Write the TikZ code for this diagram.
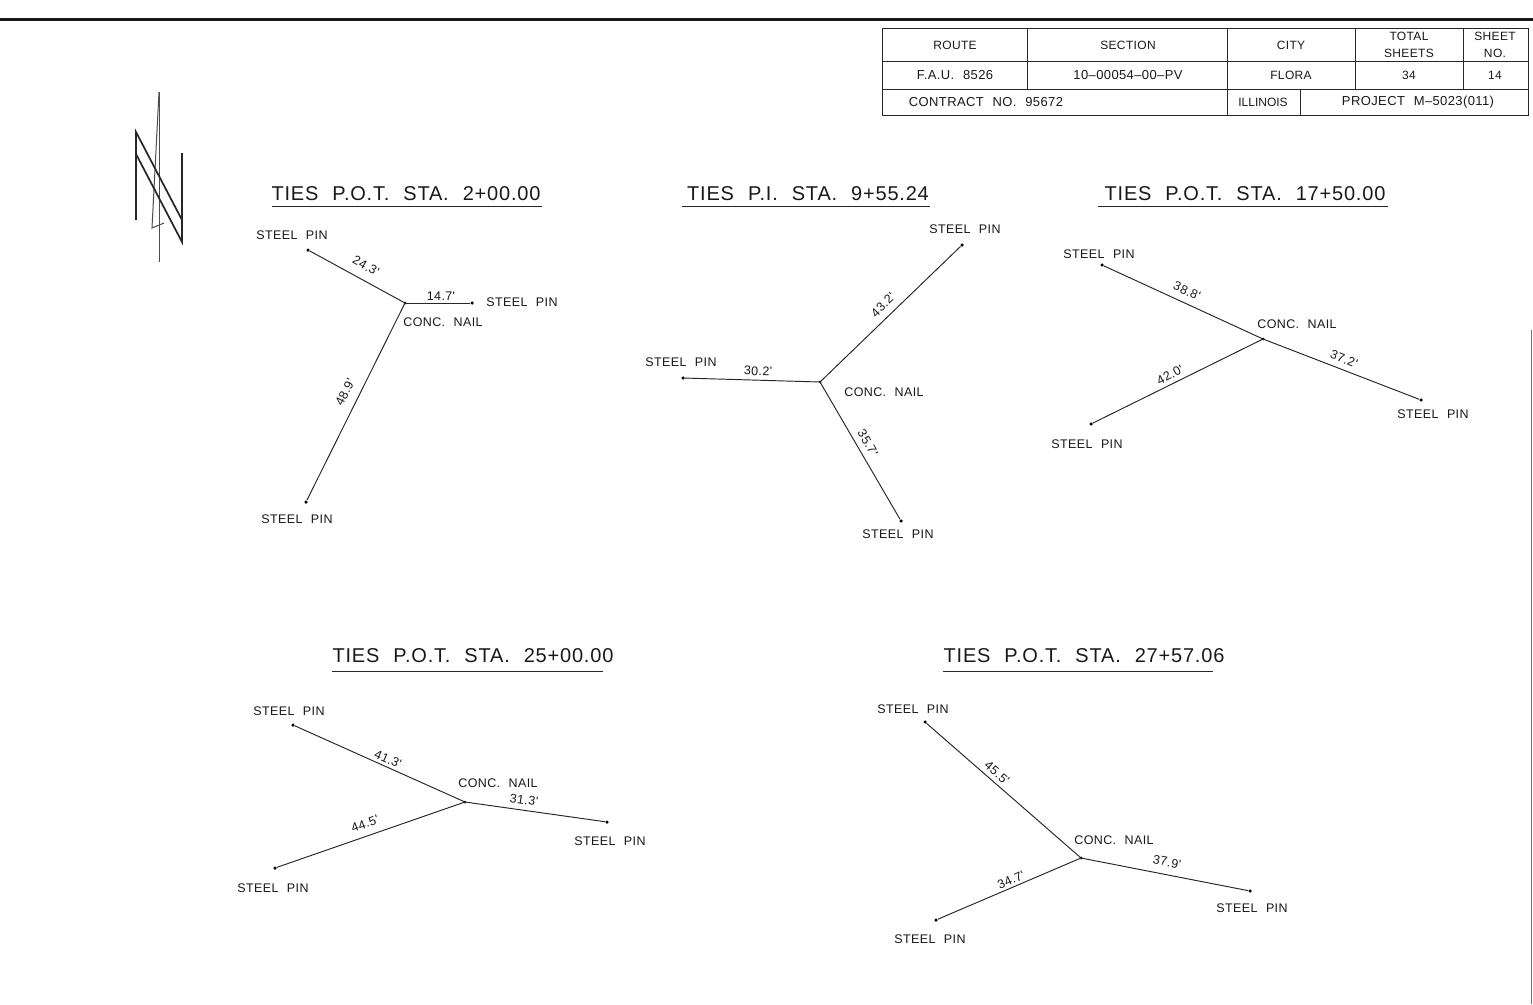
\documentclass[tikz,border=0pt]{standalone}
\usepackage{fontspec}
\setmainfont{Liberation Sans}
\newfontfamily\cadfont[LetterSpace=3,WordSpace=2.2]{Liberation Sans}
\newfontfamily\titlefont[LetterSpace=4,WordSpace=2.2]{Liberation Sans}
\tikzset{
  tie/.style={line width=0.95pt,black!85},
  pinpt/.style={circle,fill=black,inner sep=0pt,minimum size=3.5pt},
  lab/.style={font=\cadfont\fontsize{12.5}{13}\selectfont,inner sep=0pt,text=black!90},
  dim/.style={font=\cadfont\fontsize{12.5}{13}\selectfont,inner sep=0pt,text=black!90},
  ttl/.style={font=\titlefont\fontsize{20}{21}\selectfont,inner sep=0pt,text=black!90},
  uline/.style={line width=0.9pt,black!85},
  tbl/.style={line width=1pt,black!85},
  tt/.style={font=\cadfont\fontsize{12}{17}\selectfont,inner sep=0pt,align=center,text=black!90},
  tb/.style={font=\cadfont\fontsize{13}{14}\selectfont,inner sep=0pt,align=center,text=black!90},
  nline/.style={line width=1.7pt,black!85},
  nthin/.style={line width=1pt,black!70}
}
\begin{document}
\begin{tikzpicture}[x=1pt,y=-1pt]
\useasboundingbox (0,0) rectangle (1533,1004);
\fill[white] (0,0) rectangle (1533,1004);
% top bar
\draw[line width=3.5pt,black!90] (0,19.5) -- (1533,19.5);
% right edge
\draw[line width=0.8pt,black!55] (1531.5,330) -- (1531.5,1004);
% title block
\draw[tbl] (882,28) rectangle (1528,115);
\draw[tbl] (882,61) -- (1528,61);
\draw[tbl] (882,89) -- (1528,89);
\draw[tbl] (1027,28) -- (1027,89);
\draw[tbl] (1227,28) -- (1227,115);
\draw[tbl] (1355,28) -- (1355,89);
\draw[tbl] (1463,28) -- (1463,89);
\draw[tbl] (1300,89) -- (1300,115);
\node[tt] (t1) at (955,45) {ROUTE};
\node[tt] (t2) at (1128,45) {SECTION};
\node[tt] (t3) at (1291,45) {CITY};
\node[tt] (t4) at (1409,45) {TOTAL\\SHEETS};
\node[tt] (t5) at (1495,45) {SHEET\\NO.};
\node[tb] (t6) at (955,75) {F.A.U. 8526};
\node[tb] (t7) at (1128,75) {10–00054–00–PV};
\node[tt] (t8) at (1291,75) {FLORA};
\node[tt] (t9) at (1409,75) {34};
\node[tt] (t10) at (1495,75) {14};
\node[tb] (t11) at (986,102) {CONTRACT NO. 95672};
\node[tt] (t12) at (1263,102) {\addfontfeature{LetterSpace=0}ILLINOIS};
\node[tb] (t13) at (1418,102) {PROJECT M–5023(011)};
% north arrow
\draw[nthin] (159,92) -- (159,262);
\draw[nthin] (159,92) -- (152,228) -- (164,223);
\draw[nline] (136,220) -- (136,132) -- (182,220);
\draw[nline] (136,154) -- (182,242) -- (182,153);
% ---------- 1
\node[ttl] (T1) at (406,194) {TIES P.O.T. STA. 2+00.00};
\draw[uline] (272,206.5) -- (542,206.5);
\coordinate (n1) at (405,303);
\node[pinpt] (a1) at (308,250) {};
\node[pinpt] (b1) at (472,303) {};
\node[pinpt] (c1) at (306,502) {};
\node[pinpt,minimum size=3pt] at (n1) {};
\draw[tie] (n1) -- (a1); \draw[tie] (n1) -- (b1); \draw[tie] (n1) -- (c1);
\node[lab] at (292,235) {STEEL PIN};
\node[lab] at (522,302) {STEEL PIN};
\node[lab] at (297,519) {STEEL PIN};
\node[lab] at (443,322) {CONC. NAIL};
\node[dim,rotate=-29] at (366,266) {24.3'};
\node[dim] at (441,296) {14.7'};
\node[dim,rotate=63] at (345,392) {48.9'};
% ---------- 2
\node[ttl] (T2) at (808,194) {TIES P.I. STA. 9+55.24};
\draw[uline] (682,206.5) -- (930,206.5);
\coordinate (n2) at (820,382);
\node[pinpt] (a2) at (962,245) {};
\node[pinpt] (b2) at (683,378) {};
\node[pinpt] (c2) at (901,521) {};
\node[pinpt,minimum size=3pt] at (n2) {};
\draw[tie] (n2) -- (a2); \draw[tie] (n2) -- (b2); \draw[tie] (n2) -- (c2);
\node[lab] at (965,229) {STEEL PIN};
\node[lab] at (681,362) {STEEL PIN};
\node[lab] at (898,534) {STEEL PIN};
\node[lab] at (884,392) {CONC. NAIL};
\node[dim,rotate=45] at (883,305) {43.2'};
\node[dim,rotate=-2] at (758,371) {30.2'};
\node[dim,rotate=-60] at (868,443) {35.7'};
% ---------- 3
\node[ttl] (T3) at (1245,194) {TIES P.O.T. STA. 17+50.00};
\draw[uline] (1098,206.5) -- (1388,206.5);
\coordinate (n3) at (1263,339);
\node[pinpt] (a3) at (1102,265) {};
\node[pinpt] (b3) at (1421,400) {};
\node[pinpt] (c3) at (1091,424) {};
\node[pinpt,minimum size=3pt] at (n3) {};
\draw[tie] (n3) -- (a3); \draw[tie] (n3) -- (b3); \draw[tie] (n3) -- (c3);
\node[lab] at (1099,254) {STEEL PIN};
\node[lab] at (1433,414) {STEEL PIN};
\node[lab] at (1087,444) {STEEL PIN};
\node[lab] at (1297,324) {CONC. NAIL};
\node[dim,rotate=-25] at (1187,291) {38.8'};
\node[dim,rotate=-22] at (1344,359) {37.2'};
\node[dim,rotate=28] at (1170,375) {42.0'};
% ---------- 4
\node[ttl] (T4) at (473,656) {TIES P.O.T. STA. 25+00.00};
\draw[uline] (332,671) -- (603,671);
\coordinate (n4) at (465,802);
\node[pinpt] (a4) at (293,725) {};
\node[pinpt] (b4) at (607,822) {};
\node[pinpt] (c4) at (275,868) {};
\node[pinpt,minimum size=3pt] at (n4) {};
\draw[tie] (n4) -- (a4); \draw[tie] (n4) -- (b4); \draw[tie] (n4) -- (c4);
\node[lab] at (289,711) {STEEL PIN};
\node[lab] at (610,841) {STEEL PIN};
\node[lab] at (273,888) {STEEL PIN};
\node[lab] at (498,783) {CONC. NAIL};
\node[dim,rotate=-24] at (388,759) {41.3'};
\node[dim,rotate=-8] at (524,800) {31.3'};
\node[dim,rotate=20] at (365,824) {44.5'};
% ---------- 5
\node[ttl] (T5) at (1084,656) {TIES P.O.T. STA. 27+57.06};
\draw[uline] (943,671) -- (1213,671);
\coordinate (n5) at (1081,858);
\node[pinpt] (a5) at (925,722) {};
\node[pinpt] (b5) at (1250,891) {};
\node[pinpt] (c5) at (936,920) {};
\node[pinpt,minimum size=3pt] at (n5) {};
\draw[tie] (n5) -- (a5); \draw[tie] (n5) -- (b5); \draw[tie] (n5) -- (c5);
\node[lab] at (913,709) {STEEL PIN};
\node[lab] at (1252,908) {STEEL PIN};
\node[lab] at (930,939) {STEEL PIN};
\node[lab] at (1114,840) {CONC. NAIL};
\node[dim,rotate=-41] at (997,773) {45.5'};
\node[dim,rotate=-11] at (1167,862) {37.9'};
\node[dim,rotate=24] at (1011,880) {34.7'};
\end{tikzpicture}
\end{document}
